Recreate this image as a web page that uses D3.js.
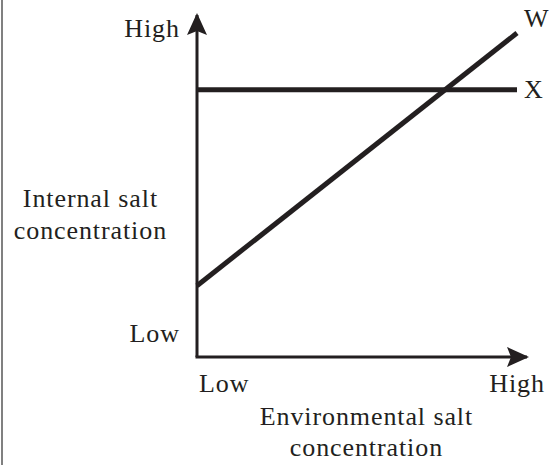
<!DOCTYPE html>
<html>
<head>
<meta charset="utf-8">
<script src="https://cdn.jsdelivr.net/npm/d3@7"></script>
<style>
  html, body { margin: 0; padding: 0; background: #fff; }
  svg { display: block; }
</style>
</head>
<body>
<script>
// ---- data ----
const seriesNames = ["W", "X"];
const seriesW = [{x: 0, y: 2.2}, {x: 10, y: 10}];
const seriesX = [{x: 0, y: 8.25}, {x: 10, y: 8.25}];
const xTickLabels = ["Low", "High"];
const yTickLabels = ["Low", "High"];
const xTitle = ["Environmental salt", "concentration"];
const yTitle = ["Internal salt", "concentration"];

const W = 553, H = 465;
const ink = "#231f20";
const FONT = "'Liberation Serif', 'Times New Roman', Times, 'DejaVu Serif', serif";
const FS = 26;
const LS = 0.9;
const svg = d3.select("body").append("svg").attr("width", W).attr("height", H)
  .attr("font-family", FONT);

// left frame line
svg.append("line").attr("x1", 2).attr("x2", 2).attr("y1", 0).attr("y2", H)
  .attr("stroke", "#808080").attr("stroke-width", 2);

const x = d3.scaleLinear().domain([0, 10]).range([197, 517]);
const y = d3.scaleLinear().domain([0, 10]).range([357, 33]);

// arrowheads
const defs = svg.append("defs");
defs.append("marker").attr("id", "arrow")
  .attr("viewBox", "0 0 22 20").attr("refX", 20).attr("refY", 10)
  .attr("markerWidth", 22).attr("markerHeight", 20)
  .attr("markerUnits", "userSpaceOnUse").attr("orient", "auto")
  .append("path").attr("d", "M0,0 L22,10 L0,20 L4,10 Z").attr("fill", ink);

// axes
svg.append("line").attr("x1", x(0)).attr("y1", y(0)).attr("x2", x(0)).attr("y2", 15)
  .attr("stroke", ink).attr("stroke-width", 3).attr("marker-end", "url(#arrow)");
svg.append("line").attr("x1", x(0) - 1.5).attr("y1", y(0)).attr("x2", 527).attr("y2", y(0))
  .attr("stroke", ink).attr("stroke-width", 3).attr("marker-end", "url(#arrow)");

function label(tx, ty, anchor, t) {
  const dx = anchor === "end" ? LS : (anchor === "middle" ? LS / 2 : 0);
  svg.append("text").attr("x", tx + dx).attr("y", ty).attr("text-anchor", anchor)
    .attr("font-family", FONT).attr("font-size", FS).attr("letter-spacing", LS)
    .attr("fill", ink).text(t);
}

// series lines
const line = d3.line().x(d => x(d.x)).y(d => y(d.y));
[seriesW, seriesX].forEach((s, i) => {
  svg.append("path").datum(s).attr("d", line)
    .attr("fill", "none").attr("stroke", ink).attr("stroke-width", 5);
  const last = s[s.length - 1];
  label(x(last.x) + 7, y(last.y) + (i === 0 ? -6 : 8), "start", seriesNames[i]);
});

// y tick labels
label(179, 342, "end", yTickLabels[0]);
label(179, 37, "end", yTickLabels[1]);
// x tick labels
label(199, 392, "start", xTickLabels[0]);
label(544, 392, "end", xTickLabels[1]);
// titles
yTitle.forEach((t, i) => label(90, 207 + i * 32, "middle", t));
xTitle.forEach((t, i) => label(366, 425 + i * 31, "middle", t));
</script>
</body>
</html>
